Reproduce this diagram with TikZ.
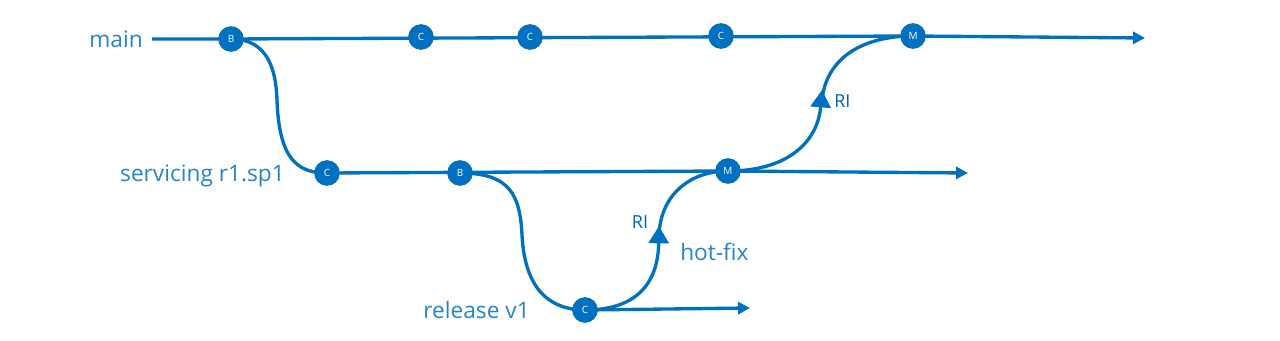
\documentclass[tikz,border=0pt]{standalone}
\usepackage{fontspec}
\setmainfont{Open Sans}
\usetikzlibrary{arrows.meta}
\definecolor{lineblue}{RGB}{0,112,192}
\definecolor{labelblue}{RGB}{35,132,204}
\definecolor{riblue}{RGB}{0,100,180}
\tikzset{
  commit/.style={circle,fill=lineblue,minimum size=19pt,inner sep=0pt,text=white,font=\fontsize{7.5}{8}\selectfont},
  branch/.style={draw=lineblue,line width=2.5pt},
  endarrow/.style={-{Triangle[length=9pt,width=9pt]}},
  midarrow/.style={-{Triangle[length=13pt,width=15pt]}},
  blabel/.style={text=labelblue,font=\fontsize{17}{20}\selectfont,inner sep=0pt},
  rilabel/.style={text=riblue,font=\fontsize{13.5}{16}\selectfont,inner sep=0pt}
}
\begin{document}
\begin{tikzpicture}[x=0.75pt,y=-0.75pt]
\useasboundingbox (0,0) rectangle (1280,341);
% coordinates
\coordinate (mstart) at (152,39);
\coordinate (mend) at (1145,38);
\coordinate (send) at (968,173);
\coordinate (rend) at (750,308);
\coordinate (a1tip) at (659,226);
\coordinate (a1base) at (659,236);
\coordinate (a2tip) at (822,90);
\coordinate (a2base) at (822,100);
% commits
\node[commit] (mB) at (231,39) {B};
\node[commit] (mC1) at (421,37) {C};
\node[commit] (mC2) at (530,37) {C};
\node[commit] (mC3) at (721,36) {C};
\node[commit] (mM) at (913,36) {M};
\node[commit] (sC) at (327,173) {C};
\node[commit] (sB) at (460,173) {B};
\node[commit] (sM) at (728,171) {M};
\node[commit] (rC) at (585,310) {C};
% branch lines
\draw[branch] (mstart) -- (mB.center) -- (mM.center);
\draw[branch,endarrow] (mM.center) -- (mend);
\draw[branch] (sC.center) -- (sM.center);
\draw[branch,endarrow] (sM.center) -- (send);
\draw[branch,endarrow] (rC.center) -- (rend);
% branching curves
\draw[branch] (mB.center) .. controls (268,39) and (276,70) .. (277,100) .. controls (279,160) and (298,173) .. (sC.center);
\draw[branch] (sB.center) .. controls (510,173) and (520,195) .. (522,235) .. controls (525,295) and (555,310) .. (rC.center);
% merges
\draw[branch,midarrow] (rC.center) .. controls (635,310) and (658,285) .. (a1tip);
\draw[branch] (a1base) .. controls (660,195) and (690,171) .. (sM.center);
\draw[branch,midarrow] (sM.center) .. controls (790,171) and (818,140) .. (a2tip);
\draw[branch] (a2base) .. controls (826,60) and (860,36) .. (mM.center);
% redraw commits on top
\foreach \n/\t in {mB/B,mC1/C,mC2/C,mC3/C,mM/M,sC/C,sB/B,sM/M,rC/C}
  \node[commit] at (\n) {\t};
% labels
\node[blabel,anchor=east] (lmain) at (143,39) {main};
\node[blabel,anchor=east] (lserv) at (285,176) {servicing r1.sp1};
\node[blabel,anchor=east] (lrel) at (530,310) {release v1};
\node[blabel,anchor=west] (lhot) at (680,252) {hot-fix};
\node[rilabel] (ri1) at (640,222) {RI};
\node[rilabel,anchor=west] (ri2) at (834,101) {RI};
\end{tikzpicture}
\end{document}
